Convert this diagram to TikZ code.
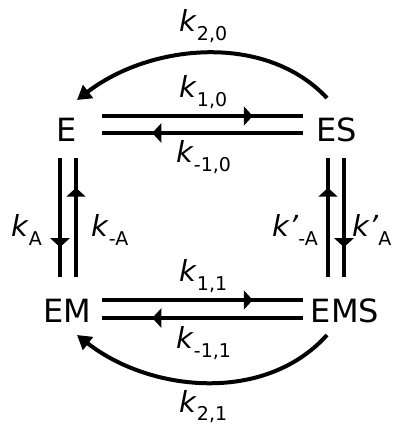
\documentclass[tikz,border=0pt]{standalone}
\usepackage{fontspec}
\setmainfont{DejaVu Sans}
\usetikzlibrary{arrows.meta,decorations.markings}
\newcommand{\rk}[2]{\textit{k#1}\raisebox{-0.28em}{\fontsize{19}{19}\selectfont #2}}
\tikzset{
  state/.style={font=\fontsize{32}{32}\selectfont, inner sep=0pt},
  rate/.style={font=\fontsize{29}{29}\selectfont, inner sep=0pt, anchor=base west},
  rxline/.style={line width=4pt},
  fwd/.style={rxline, postaction={decorate},
    decoration={markings, mark=at position 0.75 with {\arrow{Triangle[length=9pt,width=19pt]}}}},
  curved/.style={rxline, -{Triangle[length=14pt,width=16pt]}},
}
\begin{document}
\begin{tikzpicture}[x=1pt,y=1pt]
\useasboundingbox (0,0) rectangle (392,424);
\node[state] (E) at (67,294) {E};
\node[state] (ES) at (337,294) {ES};
\node[state] (EM) at (67,113) {EM};
\node[state] (EMS) at (345,113) {EMS};
% horizontal pairs
\draw[fwd] ([xshift=35pt,yshift=14pt]E.center) -- ([xshift=-34pt,yshift=14pt]ES.center);
\draw[fwd] ([xshift=-34pt,yshift=-3pt]ES.center) -- ([xshift=35pt,yshift=-3pt]E.center);
\draw[fwd] ([xshift=35pt,yshift=11pt]EM.center) -- ([xshift=-42pt,yshift=11pt]EMS.center);
\draw[fwd] ([xshift=-42pt,yshift=-7pt]EMS.center) -- ([xshift=35pt,yshift=-7pt]EM.center);
% vertical pairs
\draw[fwd] ([xshift=-7pt,yshift=-28pt]E.center) -- ([xshift=-7pt,yshift=34pt]EM.center);
\draw[fwd] ([xshift=9pt,yshift=34pt]EM.center) -- ([xshift=9pt,yshift=-28pt]E.center);
\draw[fwd] ([xshift=-17pt,yshift=34pt]EMS.center) -- ([xshift=-9pt,yshift=-28pt]ES.center);
\draw[fwd] ([xshift=7pt,yshift=-28pt]ES.center) -- ([xshift=-1pt,yshift=34pt]EMS.center);
% curved
\draw[curved] ([xshift=-10pt,yshift=32pt]ES.center) .. controls (265,392) and (150,380) .. ([xshift=10pt,yshift=30pt]E.center);
\draw[curved] ([xshift=-18pt,yshift=-24pt]EMS.center) .. controls (265,20) and (150,32) .. ([xshift=10pt,yshift=-24pt]EM.center);
% labels
\node[rate] (k20) at (179,392) {\rk{}{2,0}};
\node[rate] (k10) at (179,326) {\rk{}{1,0}};
\node[rate] (km10) at (176,261) {\rk{}{-1,0}};
\node[rate] (kA) at (11,187) {\rk{}{A}};
\node[rate] (kmA) at (91,187) {\rk{}{-A}};
\node[rate] (kpmA) at (272,187) {\rk{’}{-A}};
\node[rate] (kpA) at (352,187) {\rk{’}{A}};
\node[rate] (k11) at (179,142) {\rk{}{1,1}};
\node[rate] (km11) at (176,75) {\rk{}{-1,1}};
\node[rate] (k21) at (179,12) {\rk{}{2,1}};
\end{tikzpicture}
\end{document}
